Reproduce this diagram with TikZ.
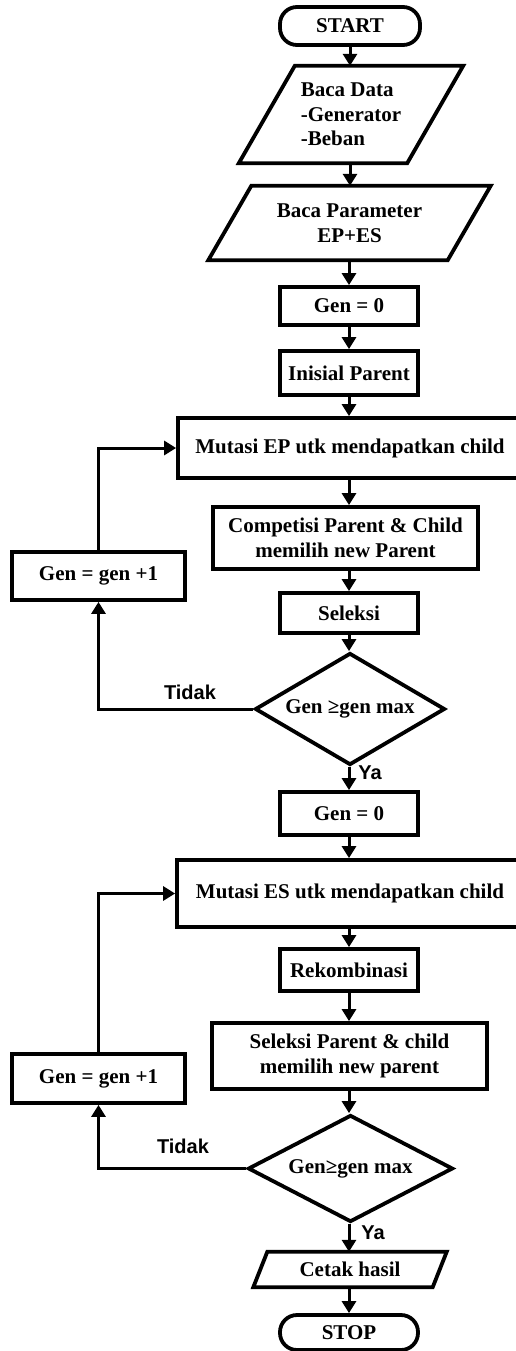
\documentclass[tikz,border=0pt]{standalone}
\usepackage{fontspec}
\setmainfont{Liberation Serif}
\newfontfamily\labelfont{Liberation Sans}
\usetikzlibrary{arrows.meta,shapes.geometric,calc}

\tikzset{
  base/.style={font=\fontsize{21}{24.5}\selectfont\bfseries, inner sep=0pt, align=center},
  procbox/.style={base, draw, line width=3.8pt, rectangle},
  termbox/.style={base, draw, line width=3.8pt, rectangle, rounded corners=17pt},
  iobox/.style={base, rectangle},
  iolines/.style={line width=3.8pt, line join=miter},
  decision/.style={base, draw, line width=3.8pt, diamond, aspect=1.7},
  flow/.style={line width=3pt, -{Triangle[length=12pt,width=14pt]}},
  answer/.style={font=\labelfont\fontsize{20}{22}\selectfont\bfseries, inner sep=0pt},
}

\begin{document}
\begin{tikzpicture}[x=1pt, y=-1pt]
\useasboundingbox (0,0) rectangle (515,1351);

% ---------- first stage: evolutionary programming ----------
\node[termbox, minimum width=140pt, minimum height=38pt] (start) at (350,26) {START};

\node[iobox, minimum width=168pt, minimum height=97pt, align=left] (data) at (351,114.5)
  {Baca Data\\-Generator\\-Beban};
\draw[iolines] ($(data.north west)+(28,0)$) -- ($(data.north east)+(28,0)$)
  -- ($(data.south east)+(-28,0)$) -- ($(data.south west)+(-28,0)$) -- cycle;

\node[iobox, minimum width=239pt, minimum height=74pt] (param) at (349.5,223)
  {Baca Parameter\\EP+ES};
\draw[iolines] ($(param.north west)+(21.5,0)$) -- ($(param.north east)+(21.5,0)$)
  -- ($(param.south east)+(-21.5,0)$) -- ($(param.south west)+(-21.5,0)$) -- cycle;

\node[procbox, minimum width=138pt, minimum height=38pt] (gena) at (349,306) {Gen = 0};
\node[procbox, minimum width=138pt, minimum height=44pt] (init) at (349,373) {Inisial Parent};
\node[procbox, minimum width=344pt, minimum height=60pt] (mutep) at (350,448)
  {Mutasi EP utk mendapatkan child};
\node[procbox, minimum width=265pt, minimum height=62pt] (comp) at (345.5,538)
  {Competisi Parent \& Child\\memilih new Parent};
\node[procbox, minimum width=173pt, minimum height=48pt] (inca) at (98.5,576) {Gen = gen +1};
\node[procbox, minimum width=138pt, minimum height=40pt] (sel) at (349,613) {Seleksi};
\node[decision, minimum width=190pt, minimum height=112pt] (diaa) at (350,709) {Gen ≥gen max};
\node[answer] at (190,692) {Tidak};
\node[answer] at (370,773) {Ya};

% ---------- second stage: evolution strategies ----------
\node[procbox, minimum width=138pt, minimum height=43pt] (genb) at (349,813.5) {Gen = 0};
\node[procbox, minimum width=346pt, minimum height=67pt] (mutes) at (350,893.5)
  {Mutasi ES utk mendapatkan child};
\node[procbox, minimum width=138pt, minimum height=42pt] (rek) at (349,970) {Rekombinasi};
\node[procbox, minimum width=275pt, minimum height=66pt] (selpar) at (349.5,1056)
  {Seleksi Parent \& child\\memilih new parent};
\node[procbox, minimum width=173pt, minimum height=49pt] (incb) at (98.5,1078.5) {Gen = gen +1};
\node[decision, minimum width=205pt, minimum height=107pt] (diab) at (350.5,1168.5) {Gen≥gen max};
\node[answer] at (183,1146) {Tidak};
\node[answer] at (373,1233) {Ya};

\node[iobox, minimum width=179pt, minimum height=35pt] (print) at (350,1269.5) {Cetak hasil};
\draw[iolines] ($(print.north west)+(7,0)$) -- ($(print.north east)+(7,0)$)
  -- ($(print.south east)+(-7,0)$) -- ($(print.south west)+(-7,0)$) -- cycle;

\node[termbox, minimum width=138pt, minimum height=35pt] (stop) at (349,1332.5) {STOP};

% ---------- main flow ----------
\draw[flow] (start.south) -- (start.south |- data.north);
\draw[flow] (start.south |- data.south) -- (start.south |- param.north);
\draw[flow] (gena.north |- param.south) -- (gena.north);
\draw[flow] (gena.south) -- (init.north);
\draw[flow] (init.south) -- (init.south |- mutep.north);
\draw[flow] (init.south |- mutep.south) -- (init.south |- comp.north);
\draw[flow] (sel.north |- comp.south) -- (sel.north);
\draw[flow] (sel.south) -- (sel.south |- diaa.north);
\draw[flow] (genb.north |- diaa.south) -- (genb.north);
\draw[flow] (genb.south) -- (genb.south |- mutes.north);
\draw[flow] (rek.north |- mutes.south) -- (rek.north);
\draw[flow] (rek.south) -- (rek.south |- selpar.north);
\draw[flow] (rek.south |- selpar.south) -- (rek.south |- diab.north);
\draw[flow] (stop.north |- diab.south) -- (stop.north |- print.north);
\draw[flow] (stop.north |- print.south) -- (stop.north);

% ---------- loops back ----------
\draw[flow] (diaa.west) -| (inca.south);
\draw[flow] (inca.north) |- (mutep.west);
\draw[flow] (diab.west) -| (incb.south);
\draw[flow] (incb.north) |- (mutes.west);
\end{tikzpicture}
\end{document}
